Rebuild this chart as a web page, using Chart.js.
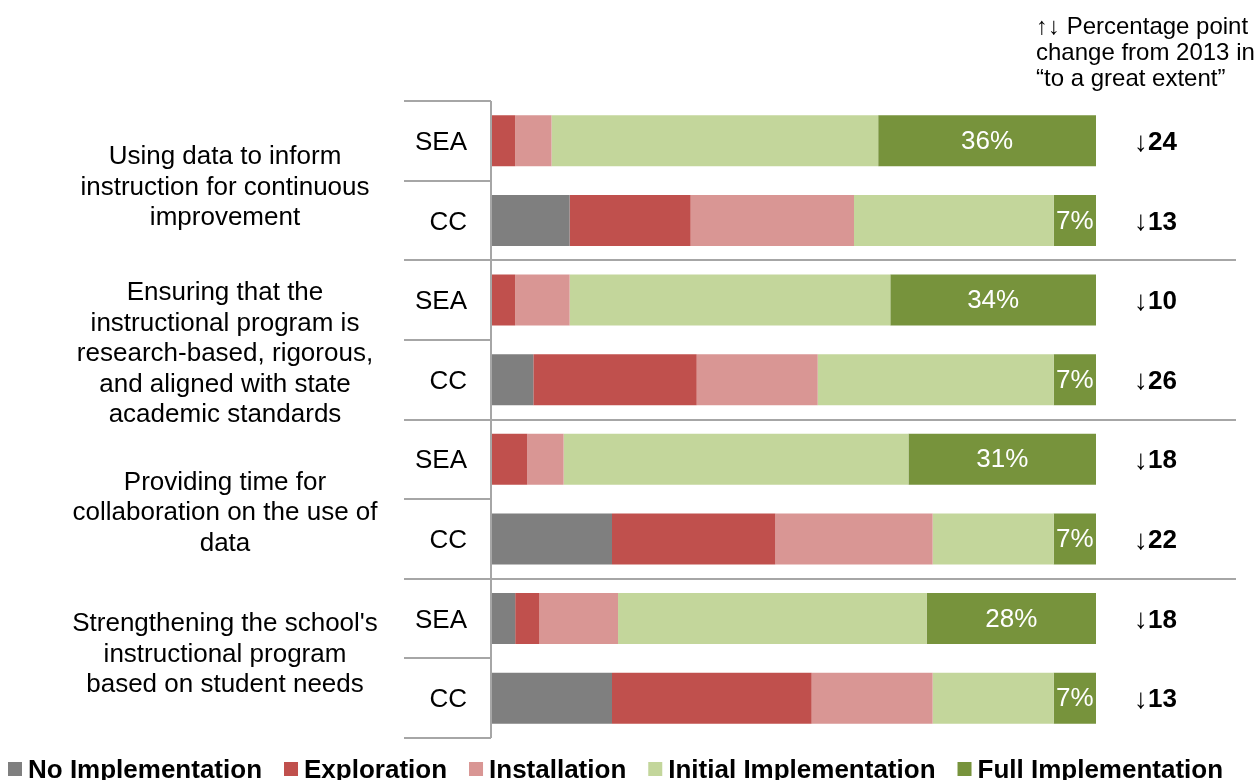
<!DOCTYPE html>
<html>
<head>
<meta charset="utf-8">
<script src="https://cdn.jsdelivr.net/npm/chart.js@4.4.1/dist/chart.umd.min.js"></script>
<style>
  html, body { margin: 0; padding: 0; background: #fff; }
  #wrap { width: 1259px; height: 780px; }
</style>
</head>
<body>
<div id="wrap"><canvas id="chart" width="1259" height="780"></canvas></div>
<script>
// rows (top to bottom)
const rowLabels = ['SEA', 'CC', 'SEA', 'CC', 'SEA', 'CC', 'SEA', 'CC'];
const groupLabels = [
    ['Using data to inform', 'instruction for continuous', 'improvement'],
    ['Ensuring that the', 'instructional program is', 'research-based, rigorous,', 'and aligned with state', 'academic standards'],
    ['Providing time for', 'collaboration on the use of', 'data'],
    ["Strengthening the school's", 'instructional program', 'based on student needs']
];

// percent of respondents per implementation stage
const noImplementation      = [0, 13, 0, 7, 0, 20, 4, 20];
const exploration           = [4, 20, 4, 27, 6, 27, 4, 33];
const installation          = [6, 27, 9, 20, 6, 26, 13, 20];
const initialImplementation = [54, 33, 53, 39, 57, 20, 51, 20];
const fullImplementation    = [36, 7, 34, 7, 31, 7, 28, 7];

// percentage point change from 2013 ("to a great extent"), all declines
const changeFrom2013 = [24, 13, 10, 26, 18, 22, 18, 13];
const changeHeader = ['\u2191\u2193 Percentage point', 'change from 2013 in', '\u201Cto a great extent\u201D'];

const FONT = "'Liberation Sans', Arial, sans-serif";
const LINE = '#a6a6a6';

const extras = {
    id: 'extras',
    afterDatasetsDraw(chart) {
        const ctx = chart.ctx;
        // value labels on the full implementation segments
        const meta = chart.getDatasetMeta(4);
        ctx.save();
        ctx.fillStyle = '#fff';
        ctx.font = '26px ' + FONT;
        ctx.textAlign = 'center';
        ctx.textBaseline = 'middle';
        meta.data.forEach((bar, i) => {
            ctx.fillText(fullImplementation[i] + '%', (bar.x + bar.base) / 2, bar.y + 1);
        });
        ctx.restore();
    },
    afterDraw(chart) {
        const ctx = chart.ctx;
        const area = chart.chartArea;
        const y = chart.scales.y;
        const step = (area.bottom - area.top) / rowLabels.length;

        ctx.save();
        // separators
        ctx.strokeStyle = LINE;
        ctx.lineWidth = 2;
        for (let k = 0; k <= rowLabels.length; k++) {
            const yy = Math.round(area.top + k * step);
            const long = k % 2 === 0 && k > 0 && k < rowLabels.length;
            ctx.beginPath();
            ctx.moveTo(404, yy);
            ctx.lineTo(long ? 1236 : area.left, yy);
            ctx.stroke();
        }
        ctx.beginPath();
        ctx.moveTo(area.left, area.top);
        ctx.lineTo(area.left, area.bottom);
        ctx.stroke();

        // group labels
        const shift = [7, 14, 14, -4];
        ctx.fillStyle = '#000';
        ctx.font = '26px ' + FONT;
        ctx.textAlign = 'center';
        ctx.textBaseline = 'middle';
        groupLabels.forEach((lines, g) => {
            const c = area.top + (2 * g + 1) * step + shift[g];
            const lh = 30.5;
            lines.forEach((t, j) => {
                ctx.fillText(t, 225, c + (j - (lines.length - 1) / 2) * lh);
            });
        });

        // change column
        ctx.textAlign = 'left';
        changeFrom2013.forEach((v, i) => {
            const yy = y.getPixelForValue(i) + 2;
            ctx.font = '28px ' + FONT;
            ctx.fillText('\u2193', 1134, yy);
            const w = ctx.measureText('\u2193').width;
            ctx.font = 'bold 26px ' + FONT;
            ctx.fillText(String(v), 1134 + w, yy);
        });

        // header
        ctx.font = '24px ' + FONT;
        ctx.textBaseline = 'alphabetic';
        changeHeader.forEach((t, j) => {
            ctx.fillText(t, 1036, 34 + j * 26);
        });

        // legend
        ctx.font = 'bold 26px ' + FONT;
        let x = 8;
        chart.data.datasets.forEach((ds) => {
            ctx.fillStyle = ds.backgroundColor;
            ctx.fillRect(x, 762, 14, 14);
            x += 20;
            ctx.fillStyle = '#000';
            ctx.fillText(ds.label, x, 778);
            x += ctx.measureText(ds.label).width + 22;
        });
        ctx.restore();
    }
};

new Chart(document.getElementById('chart'), {
    type: 'bar',
    data: {
        labels: rowLabels,
        datasets: [
            { label: 'No Implementation', data: noImplementation, backgroundColor: '#7f7f7f' },
            { label: 'Exploration', data: exploration, backgroundColor: '#c0504d' },
            { label: 'Installation', data: installation, backgroundColor: '#d99694' },
            { label: 'Initial Implementation', data: initialImplementation, backgroundColor: '#c3d69b' },
            { label: 'Full Implementation', data: fullImplementation, backgroundColor: '#77933c' }
        ]
    },
    options: {
        indexAxis: 'y',
        responsive: false,
        animation: false,
        devicePixelRatio: 1,
        datasets: { bar: { categoryPercentage: 1, barPercentage: 0.64, borderWidth: 0 } },
        layout: { padding: { top: 101, right: 163, left: 0, bottom: 42 } },
        scales: {
            x: { stacked: true, min: 0, max: 100, display: false },
            y: {
                stacked: true,
                grid: { display: false, drawTicks: false },
                border: { display: false },
                ticks: { color: '#000', font: { family: FONT, size: 26 }, padding: 24, labelOffset: 2 },
                afterFit: (scale) => { scale.width = 491; }
            }
        },
        plugins: {
            legend: { display: false },
            tooltip: { enabled: false }
        }
    },
    plugins: [extras]
});
</script>
</body>
</html>
